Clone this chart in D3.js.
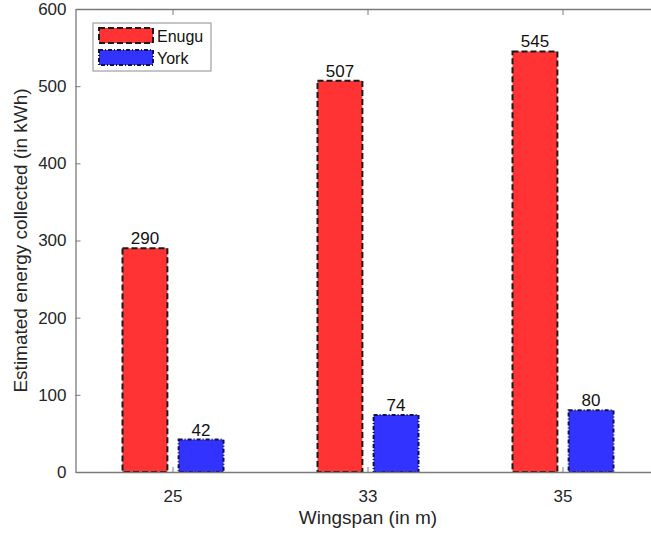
<!DOCTYPE html>
<html>
<head>
<meta charset="utf-8">
<script src="https://cdn.jsdelivr.net/npm/d3@7"></script>
<style>
  html, body { margin: 0; padding: 0; background: #fff; overflow: hidden; }
  svg { display: block; font-family: "Liberation Sans", Arial, Helvetica, sans-serif; }
</style>
</head>
<body>
<svg id="chart" width="651" height="535"></svg>
<script>
// Wingspan categories and collected energy per location (kWh)
const categories = ["25", "33", "35"];
const seriesNames = ["Enugu", "York"];
const enuguValues = [290, 507, 545];
const yorkValues = [42, 74, 80];
const yTicks = [0, 100, 200, 300, 400, 500, 600];

const seriesStyle = {
  Enugu: { fill: "#ff3333", stroke: "#1a1a1a", dash: "6,3" },
  York:  { fill: "#3333ff", stroke: "#10104a", dash: "4,2,1,2" }
};

const svg = d3.select("#chart");
const plotLeft = 75.5, plotRight = 660.5, plotTop = 9, plotBottom = 472;
const axisColor = "#7a7a7a", textColor = "#262626";

const x = d3.scaleBand().domain(categories).range([plotLeft, plotRight]).paddingInner(0).paddingOuter(0);
const xInner = d3.scaleBand().domain(seriesNames).range([-50.5, 50.5]).paddingInner(0.2);
const y = d3.scaleLinear().domain([0, 600]).range([plotBottom, plotTop]);

const rows = categories.map((c, i) => ({ cat: c, Enugu: enuguValues[i], York: yorkValues[i] }));

// Bars
const groups = svg.append("g").selectAll("g").data(rows).join("g")
  .attr("transform", d => `translate(${x(d.cat) + x.bandwidth() / 2},0)`);

groups.selectAll("rect").data(d => seriesNames.map(s => ({ s, v: d[s] }))).join("rect")
  .attr("x", d => xInner(d.s))
  .attr("width", xInner.bandwidth())
  .attr("y", d => y(d.v))
  .attr("height", d => y(0) - y(d.v))
  .attr("fill", d => seriesStyle[d.s].fill)
  .attr("stroke", d => seriesStyle[d.s].stroke)
  .attr("stroke-width", 2)
  .attr("stroke-dasharray", d => seriesStyle[d.s].dash);

// Value labels above bars
groups.selectAll("text").data(d => seriesNames.map(s => ({ s, v: d[s] }))).join("text")
  .attr("x", d => xInner(d.s) + xInner.bandwidth() / 2)
  .attr("y", d => y(d.v) - 4)
  .attr("text-anchor", "middle")
  .attr("font-size", 17)
  .attr("fill", "#111")
  .text(d => d.v);

// Axes (box style with inward ticks)
const yAxis = d3.axisLeft(y).tickValues(yTicks).tickSize(-5).tickPadding(14).tickSizeOuter(0);
const gy = svg.append("g").attr("transform", `translate(${plotLeft},0)`).call(yAxis);
const xAxis = d3.axisBottom(x).tickSize(-5).tickPadding(18).tickSizeOuter(0);
const gx = svg.append("g").attr("transform", `translate(0,${plotBottom})`).call(xAxis);
const xTop = d3.axisTop(x).tickSize(-6).tickFormat("").tickSizeOuter(0);
const gt = svg.append("g").attr("transform", `translate(0,${plotTop})`).call(xTop);

[gy, gx, gt].forEach(g => {
  g.select(".domain").attr("stroke", axisColor).attr("stroke-width", 1.3);
  g.selectAll(".tick line").attr("stroke", axisColor).attr("stroke-width", 1);
  g.selectAll(".tick text").attr("fill", textColor).attr("font-size", 17)
    .attr("font-family", "'Liberation Sans', Arial, sans-serif");
});
gy.selectAll(".tick text").attr("x", -9);

// Axis titles
svg.append("text")
  .attr("x", (plotLeft + plotRight) / 2)
  .attr("y", 524)
  .attr("text-anchor", "middle")
  .attr("font-size", 19)
  .attr("fill", textColor)
  .text("Wingspan (in m)");

svg.append("text")
  .attr("transform", `translate(27,${(plotTop + plotBottom) / 2}) rotate(-90)`)
  .attr("text-anchor", "middle")
  .attr("font-size", 19)
  .attr("fill", textColor)
  .text("Estimated energy collected (in kWh)");

// Legend
const lg = svg.append("g").attr("transform", "translate(93,23)");
lg.append("rect").attr("width", 118).attr("height", 48)
  .attr("fill", "#fff").attr("stroke", "#8c8c8c").attr("stroke-width", 1);
seriesNames.forEach((s, i) => {
  const row = lg.append("g").attr("transform", `translate(0,${5 + i * 22})`);
  row.append("rect").attr("x", 6).attr("y", 0).attr("width", 54).attr("height", 15)
    .attr("fill", seriesStyle[s].fill).attr("stroke", seriesStyle[s].stroke)
    .attr("stroke-width", 2).attr("stroke-dasharray", seriesStyle[s].dash);
  row.append("text").attr("x", 64).attr("y", 13.5)
    .attr("font-size", 16).attr("fill", "#111").text(s);
});
</script>
</body>
</html>
